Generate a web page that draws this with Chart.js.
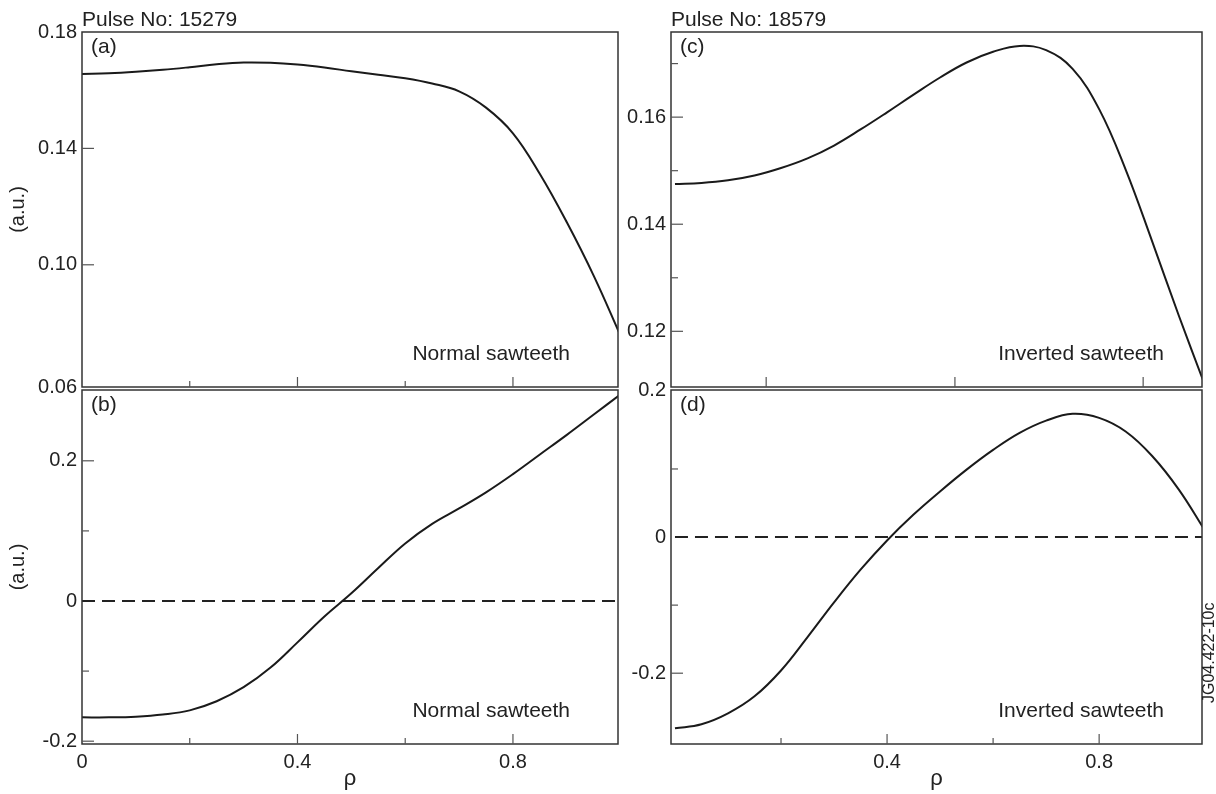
<!DOCTYPE html>
<html>
<head>
<meta charset="utf-8">
<script src="https://cdn.jsdelivr.net/npm/chart.js@4.4.1/dist/chart.umd.min.js"></script>
<style>
  body { margin: 0; background: #fff; }
  #wrap { position: relative; width: 1216px; height: 794px; overflow: hidden; background: #fff; }
  canvas { position: absolute; }
</style>
</head>
<body>
<div id="wrap">
  <canvas id="pa" width="640" height="420" style="left:0px;top:0px"></canvas>
  <canvas id="pb" width="640" height="434" style="left:0px;top:360px"></canvas>
  <canvas id="pc" width="626" height="420" style="left:590px;top:0px"></canvas>
  <canvas id="pd" width="626" height="434" style="left:590px;top:360px"></canvas>
</div>
<script>
// normalised radius
const rho = [0, 0.05, 0.1, 0.15, 0.2, 0.25, 0.3, 0.35, 0.4, 0.45, 0.5,
             0.55, 0.6, 0.65, 0.7, 0.75, 0.8, 0.85, 0.9, 0.95, 1.0];

// (a) pulse 15279, profile
const profileA = [0.1656, 0.1658, 0.1663, 0.1670, 0.1679, 0.1689, 0.1695, 0.1694, 0.1688, 0.1678, 0.1665,
                  0.1653, 0.1641, 0.1623, 0.1596, 0.1540, 0.1452, 0.1312, 0.1146, 0.0962, 0.0755];
// (b) pulse 15279, perturbation
const profileB = [-0.166, -0.166, -0.165, -0.162, -0.156, -0.143, -0.123, -0.095, -0.059, -0.022, 0.011,
                  0.047, 0.082, 0.110, 0.132, 0.155, 0.181, 0.209, 0.237, 0.266, 0.295];
// (c) pulse 18579, profile
const profileC = [0.1475, 0.1477, 0.1482, 0.1491, 0.1505, 0.1523, 0.1547, 0.1577, 0.1609, 0.1642, 0.1674,
                  0.1702, 0.1722, 0.1733, 0.1725, 0.1690, 0.1615, 0.1502, 0.1368, 0.1230, 0.1098];
// (d) pulse 18579, perturbation
const profileD = [-0.281, -0.275, -0.259, -0.234, -0.196, -0.147, -0.096, -0.048, -0.005, 0.033, 0.067,
                  0.099, 0.128, 0.153, 0.171, 0.181, 0.175, 0.155, 0.119, 0.070, 0.009];

// dashed zero reference
const zeroRho = [0, 1];
const zeroLine = [0, 0];

// tick values
const yTicksA = [0.058, 0.10, 0.14, 0.18];
const yMarksA = [0.10, 0.14];
const yTicksB = [-0.2, 0, 0.2];
const yMarksB = [-0.2, 0.2];
const yMinorBD = [-0.1, 0.1];
const yTicksC = [0.12, 0.14, 0.16];
const yMinorC = [0.13, 0.15, 0.17];
const yTicksD = [-0.2, 0, 0.216];
const yMarksD = [-0.2];
const xMajor = [0.4, 0.8];
const xMinor = [0.2, 0.6];
const xLabelsLeft = [0, 0.4, 0.8];
const xLabelsRight = [0.4, 0.8];
const xMarksC = [0.172, 0.528, 0.883];

Chart.defaults.font.family = '"Liberation Sans", Arial, Helvetica, sans-serif';
Chart.defaults.color = '#222';

// frame, inward ticks and panel texts
const panelDecor = {
  id: 'panelDecor',
  afterDatasetsDraw(chart, args, o) {
    const { ctx, chartArea: a } = chart;
    const x = chart.scales.x, y = chart.scales.y;
    ctx.save();
    ctx.strokeStyle = '#333';
    ctx.lineWidth = 1.5;
    ctx.strokeRect(a.left, a.top, a.right - a.left, a.bottom - a.top);

    ctx.strokeStyle = '#555';
    ctx.lineWidth = 1.2;
    const seg = (x1, y1, x2, y2) => { ctx.beginPath(); ctx.moveTo(x1, y1); ctx.lineTo(x2, y2); ctx.stroke(); };
    (o.xMajor || []).forEach(v => { const p = x.getPixelForValue(v); seg(p, a.bottom, p, a.bottom - 10); });
    (o.xMinor || []).forEach(v => { const p = x.getPixelForValue(v); seg(p, a.bottom, p, a.bottom - 6); });
    (o.yMajor || []).forEach(v => { const p = y.getPixelForValue(v); seg(a.left, p, a.left + 12, p); });
    (o.yMinor || []).forEach(v => { const p = y.getPixelForValue(v); seg(a.left, p, a.left + 7, p); });

    ctx.fillStyle = '#222';
    ctx.font = '21px "Liberation Sans", Arial, sans-serif';
    ctx.textBaseline = 'middle';
    ctx.textAlign = 'left';
    ctx.fillText(o.letter, a.left + 9, a.top + 15);
    ctx.textAlign = 'right';
    ctx.fillText(o.note, a.right - o.noteRight, a.bottom - 33);
    if (o.pulse) {
      ctx.textAlign = 'left';
      ctx.textBaseline = 'alphabetic';
      ctx.fillText(o.pulse, a.left, a.top - 6);
    }
    if (o.stamp) {
      ctx.translate(a.right + 8, a.bottom - 41);
      ctx.rotate(-Math.PI / 2);
      ctx.font = '16px "Liberation Sans", Arial, sans-serif';
      ctx.textAlign = 'left';
      ctx.textBaseline = 'middle';
      ctx.fillText(o.stamp, 0, 0);
    }
    ctx.restore();
  }
};

const fmt1 = v => (v === 0 ? '0' : v.toFixed(1));
const fmt2 = v => v.toFixed(2);

function panel(id, values, o) {
  const datasets = [{
    data: rho.map((r, i) => ({ x: r, y: values[i] })),
    borderColor: '#1a1a1a', borderWidth: 2, pointRadius: 0,
    tension: 0.4, clip: 0
  }];
  if (o.zero) {
    datasets.push({
      data: zeroRho.map((r, i) => ({ x: r, y: zeroLine[i] })),
      borderColor: '#222', borderWidth: 2, borderDash: [13, 7], pointRadius: 0, clip: 0
    });
  }
  return new Chart(document.getElementById(id), {
    type: 'line',
    data: { datasets },
    options: {
      responsive: false,
      animation: false,
      devicePixelRatio: 1,
      layout: { padding: o.padding },
      plugins: { legend: { display: false }, tooltip: { enabled: false }, panelDecor: o.decor },
      scales: {
        x: {
          type: 'linear', min: o.xMin, max: o.xMax,
          display: !!o.xLabels,
          grid: { display: false, drawTicks: false },
          border: { display: false },
          afterBuildTicks: s => { s.ticks = (o.xLabels || []).map(v => ({ value: v })); },
          ticks: { padding: 6, font: { size: 20 }, color: '#222', maxRotation: 0, autoSkip: false, callback: v => fmt1(v) },
          title: { display: !!o.xLabels, text: 'ρ', font: { size: 22 }, color: '#222', padding: { top: 0, bottom: 2 } },
          afterFit: s => { s.height = o.xLabels ? 50 : 0; }
        },
        y: {
          type: 'linear', min: o.yMin, max: o.yMax,
          grid: { display: false, drawTicks: false },
          border: { display: false },
          afterBuildTicks: s => { s.ticks = o.yLabels.map(v => ({ value: v })); },
          ticks: { padding: 5, font: { size: 20 }, color: '#222', autoSkip: false, callback: v => o.yFmt(v) },
          title: { display: !!o.yTitle, text: '(a.u.)', font: { size: 20 }, color: '#222', padding: { top: 6, bottom: 0 } },
          afterFit: s => { s.width = o.yWidth; }
        }
      }
    },
    plugins: [panelDecor]
  });
}

panel('pa', profileA, {
  xMin: 0, xMax: 0.995, yMin: 0.058, yMax: 0.18, yLabels: yTicksA, yFmt: fmt2, yTitle: true, yWidth: 82,
  padding: { left: 0, top: 32, right: 22, bottom: 33 },
  decor: { letter: '(a)', note: 'Normal sawteeth', noteRight: 48, pulse: 'Pulse No: 15279',
           xMajor: xMajor, xMinor: xMinor, yMajor: yMarksA }
});
panel('pb', profileB, {
  zero: true, xMin: 0, xMax: 0.995, xLabels: xLabelsLeft, yMin: -0.204, yMax: 0.301, yLabels: yTicksB, yFmt: fmt1,
  yTitle: true, yWidth: 82,
  padding: { left: 0, top: 30, right: 22, bottom: 0 },
  decor: { letter: '(b)', note: 'Normal sawteeth', noteRight: 48,
           xMajor: xMajor, xMinor: xMinor, yMajor: yMarksB, yMinor: yMinorBD }
});
panel('pc', profileC, {
  xMin: -0.0075, xMax: 0.994, yMin: 0.1096, yMax: 0.1759, yLabels: yTicksC, yFmt: fmt2, yWidth: 81,
  padding: { left: 0, top: 32, right: 14, bottom: 33 },
  decor: { letter: '(c)', note: 'Inverted sawteeth', noteRight: 38, pulse: 'Pulse No: 18579',
           xMajor: xMarksC, yMajor: yTicksC, yMinor: yMinorC }
});
panel('pd', profileD, {
  zero: true, xMin: -0.0075, xMax: 0.994, xLabels: xLabelsRight, yMin: -0.304, yMax: 0.216, yLabels: yTicksD, yFmt: fmt1,
  yWidth: 81,
  padding: { left: 0, top: 30, right: 14, bottom: 0 },
  decor: { letter: '(d)', note: 'Inverted sawteeth', noteRight: 38, stamp: 'JG04.422-10c',
           xMajor: xMajor, xMinor: xMinor, yMajor: yMarksD, yMinor: yMinorBD }
});
</script>
</body>
</html>
